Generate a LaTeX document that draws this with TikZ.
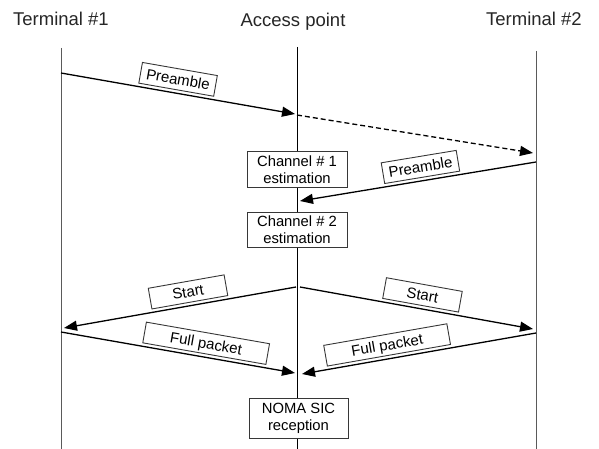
\documentclass[tikz,border=0pt]{standalone}
\usepackage{fontspec}
\setmainfont{Liberation Sans}
\usetikzlibrary{arrows.meta}
\definecolor{lifegray}{RGB}{90,90,90}
\definecolor{boxgray}{RGB}{55,55,55}
\tikzset{
  title/.style={anchor=base, font=\fontsize{18.5}{22}\selectfont, text=black!85},
  lifeline/.style={draw=lifegray, line width=1.0pt},
  midline/.style={draw=black, line width=0.9pt},
  procbox/.style={draw=boxgray, fill=white, line width=1.0pt, align=center,
    minimum width=100pt, inner sep=0pt, font=\fontsize{14.8}{17}\selectfont},
  msg/.style={draw=black, line width=1.3pt, -{Triangle[length=13pt,width=10pt]}},
  msgdash/.style={msg, dash pattern=on 5pt off 3pt},
  lbl/.style={draw=boxgray, fill=white, line width=0.9pt, sloped, above=3pt,
    minimum height=21pt, inner xsep=5pt, inner ysep=0pt,
    font=\fontsize{15}{17}\selectfont, text depth=0pt}
}
\begin{document}
\begin{tikzpicture}[x=1pt,y=-1pt]
\useasboundingbox (0,0) rectangle (599,449);

% titles
\node[title] (t1) at (61,26) {Terminal \#1};
\node[title] (ap) at (293,27) {Access point};
\node[title] (t2) at (534,26) {Terminal \#2};

% lifelines
\coordinate (l1top) at (61,48);  \coordinate (l1bot) at (61,449);
\coordinate (mtop) at (297,47);  \coordinate (mbot) at (297,449);
\coordinate (l2top) at (536,51); \coordinate (l2bot) at (536,449);
\draw[lifeline] (l1top) -- (l1bot);
\draw[lifeline] (l2top) -- (l2bot);
\draw[midline] (mtop) -- (mbot);

% processing boxes
\node[procbox, minimum height=35pt] (ch1) at (297,169.5) {Channel \# 1\\estimation};
\node[procbox, minimum height=35pt] (ch2) at (297,229.5) {Channel \# 2\\estimation};
\node[procbox, minimum height=40pt, minimum width=99pt] (noma) at (298.5,418) {NOMA SIC\\reception};

% message end points
\coordinate (p1a) at (61,73);   \coordinate (p1b) at (295,114);
\coordinate (d1a) at (297,115); \coordinate (d1b) at (533,153);
\coordinate (p2a) at (536,162); \coordinate (p2b) at (300,201);
\coordinate (sLa) at (296,287); \coordinate (sLb) at (64,328);
\coordinate (sRa) at (300,287); \coordinate (sRb) at (533,329);
\coordinate (fLa) at (61,332);  \coordinate (fLb) at (295,373);
\coordinate (fRa) at (536,333); \coordinate (fRb) at (302,374);

% messages
\draw[msg] (p1a) -- node[lbl, pos=0.49, minimum width=76pt] (lp1) {Preamble} (p1b);
\draw[msgdash] (d1a) -- (d1b);
\draw[msg] (p2a) -- node[lbl, pos=0.48, minimum width=76pt] (lp2) {Preamble} (p2b);
\draw[msg] (sLa) -- node[lbl, pos=0.455, minimum width=77pt] (lsL) {Start} (sLb);
\draw[msg] (sRa) -- node[lbl, pos=0.515, minimum width=77pt] (lsR) {Start} (sRb);
\draw[msg] (fLa) -- node[lbl, pos=0.61, minimum width=125pt] (lfL) {Full packet} (fLb);
\draw[msg] (fRa) -- node[lbl, pos=0.626, minimum width=125pt] (lfR) {Full packet} (fRb);
\end{tikzpicture}
\end{document}
